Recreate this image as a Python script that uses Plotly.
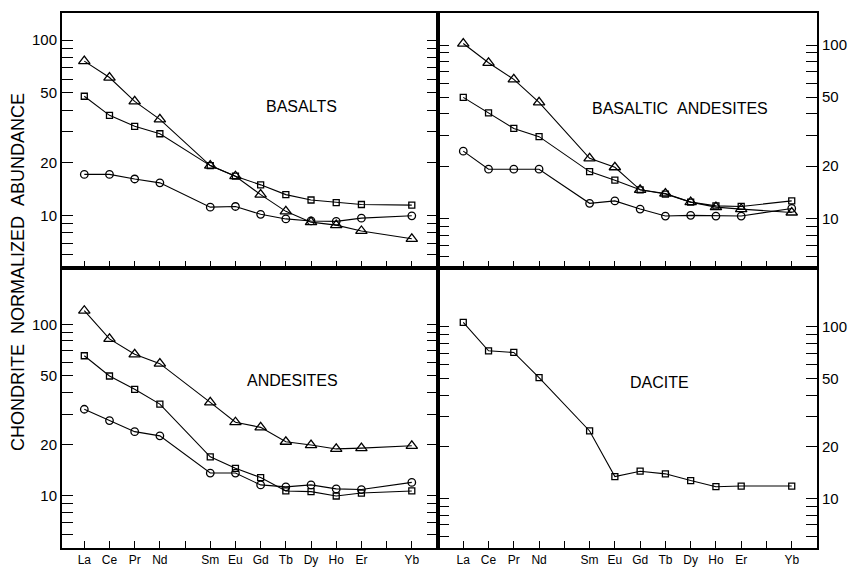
import plotly.graph_objects as go

# REE element positions (index on the x axis, Pm=4 and Tm=12 left unlabeled)
elements = ["La", "Ce", "Pr", "Nd", "Sm", "Eu", "Gd", "Tb", "Dy", "Ho", "Er", "Yb"]
element_pos = [0, 1, 2, 3, 5, 6, 7, 8, 9, 10, 11, 13]
tick_pos = list(range(14))
tick_text = ["La", "Ce", "Pr", "Nd", "", "Sm", "Eu", "Gd", "Tb", "Dy", "Ho", "Er", "", "Yb"]

# Basalts
basalt_tri = [75.9, 61.2, 44.8, 35.4, 19.3, 16.8, 13.2, 10.6, 9.2, 8.85, 8.2, 7.4]
basalt_sq = [47.9, 37.3, 32.3, 29.3, 19.3, 16.8, 15.0, 13.2, 12.3, 11.9, 11.6, 11.5]
basalt_ci = [17.2, 17.2, 16.2, 15.4, 11.2, 11.3, 10.2, 9.6, 9.35, 9.3, 9.7, 10.0]
# Basaltic andesites
bas_and_tri = [102, 79, 63.4, 46.7, 22.2, 19.7, 14.6, 13.9, 12.4, 11.6, 11.3, 10.8]
bas_and_sq = [49.9, 40.6, 33.0, 29.6, 18.6, 16.6, 14.6, 13.8, 12.4, 11.8, 11.7, 12.6]
bas_and_ci = [24.4, 19.2, 19.2, 19.2, 12.2, 12.6, 11.3, 10.3, 10.4, 10.3, 10.3, 11.4]
# Andesites
and_tri = [120, 82.2, 66.9, 59.0, 35.1, 26.9, 25.1, 20.7, 19.8, 18.8, 19.0, 19.6]
and_sq = [65.6, 50.0, 41.8, 34.3, 16.9, 14.5, 12.8, 10.7, 10.6, 10.0, 10.4, 10.7]
and_ci = [32.0, 27.5, 23.7, 22.4, 13.6, 13.6, 11.6, 11.3, 11.6, 11.0, 10.9, 12.0]
# Dacite
dacite_sq = [106, 72.4, 70.8, 50.5, 24.7, 13.4, 14.4, 13.9, 12.7, 11.7, 11.8, 11.8]

y_tickvals = [6, 7, 8, 9, 10, 20, 30, 40, 50, 60, 70, 80, 90, 100]
y_ticktext = ["", "", "", "", "10", "20", "", "", "50", "", "", "", "", "100"]

panel_titles = ["BASALTS", "BASALTIC\u00a0\u00a0ANDESITES", "ANDESITES", "DACITE"]

W, H = 849, 567
xl = [62 / W, 438 / W]
xr = [438 / W, 817 / W]
yt = [1 - 268 / H, 1 - 13 / H]
yb = [1 - 548 / H, 1 - 268 / H]

FONT = "Liberation Sans, Arial, sans-serif"

fig = go.Figure()

symbols = {"tri": ("triangle-up-open", 10), "sq": ("square-open", 6), "ci": ("circle-open", 7.5)}

def add(vals, kind, ax):
    sym, size = symbols[kind]
    fig.add_trace(go.Scatter(
        x=element_pos, y=vals, mode="lines+markers",
        xaxis="x" + ax, yaxis="y" + ax,
        line=dict(color="black", width=1.1),
        marker=dict(symbol=sym, size=size, color="black", line=dict(width=1.3, color="black")),
        showlegend=False, hoverinfo="skip"))

add(basalt_tri, "tri", ""); add(basalt_sq, "sq", ""); add(basalt_ci, "ci", "")
add(bas_and_tri, "tri", "2"); add(bas_and_sq, "sq", "2"); add(bas_and_ci, "ci", "2")
add(and_tri, "tri", "3"); add(and_sq, "sq", "3"); add(and_ci, "ci", "3")
add(dacite_sq, "sq", "4")

def xaxis(domain, anchor, rng, labels):
    return dict(domain=domain, anchor=anchor, range=rng, tickvals=tick_pos,
                ticktext=tick_text, showticklabels=labels, ticks="inside", ticklen=7,
                tickwidth=1.2, tickcolor="black", showline=True, linecolor="black",
                linewidth=2, mirror=True, showgrid=False, zeroline=False,
                tickfont=dict(family=FONT, size=12, color="black"))

def yaxis(domain, anchor, rng, side):
    return dict(domain=domain, anchor=anchor, type="log", range=rng, side=side,
                tickvals=y_tickvals, ticktext=y_ticktext, ticks="inside", ticklen=11,
                tickwidth=1.2, tickcolor="black", showline=True, linecolor="black",
                linewidth=2, mirror="allticks", showgrid=False, zeroline=False,
                tickfont=dict(family=FONT, size=15, color="black"))

fig.update_layout(
    width=W, height=H, margin=dict(l=0, r=0, t=0, b=0),
    paper_bgcolor="white", plot_bgcolor="white",
    xaxis=xaxis(xl, "y", [-0.885, 14.04], False),
    yaxis=yaxis(yt, "x", [0.703, 2.154], "left"),
    xaxis2=xaxis(xr, "y2", [-1.0, 14.0], False),
    yaxis2=yaxis(yt, "x2", [0.713, 2.185], "right"),
    xaxis3=xaxis(xl, "y3", [-0.885, 14.04], True),
    yaxis3=yaxis(yb, "x3", [0.697, 2.328], "left"),
    xaxis4=xaxis(xr, "y4", [-1.0, 14.0], True),
    yaxis4=yaxis(yb, "x4", [0.711, 2.342], "right"),
)

title_pos = [(301, 106), (680, 108), (292, 380), (659, 382)]
for t, (px, py) in zip(panel_titles, title_pos):
    fig.add_annotation(text=t, x=px / W, y=1 - py / H, xref="paper", yref="paper",
                       xanchor="center", yanchor="middle",
                       showarrow=False, font=dict(family=FONT, size=16, color="black"))

fig.add_annotation(text="CHONDRITE\u00a0\u00a0NORMALIZED\u00a0\u00a0ABUNDANCE",
                   x=18 / W, y=1 - 272 / H, xref="paper", yref="paper", textangle=-90,
                   xanchor="center", yanchor="middle",
                   showarrow=False, font=dict(family=FONT, size=18, color="black"))

fig.write_html("out.html")
